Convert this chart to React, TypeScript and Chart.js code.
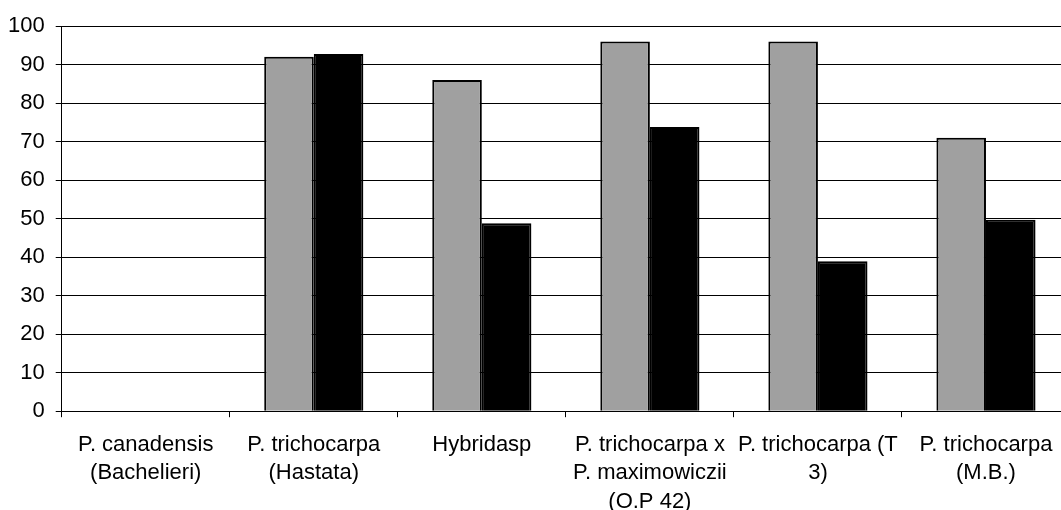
import React, { useEffect, useRef } from "react";
import { Chart, registerables } from "chart.js";

Chart.register(...registerables);

const categories: string[][] = [
  ["P. canadensis", "(Bachelieri)"],
  ["P. trichocarpa", "(Hastata)"],
  ["Hybridasp"],
  ["P. trichocarpa x", "P. maximowiczii", "(O.P 42)"],
  ["P. trichocarpa (T", "3)"],
  ["P. trichocarpa", "(M.B.)"],
];
const seriesGray: number[] = [0, 92, 86, 96, 96, 71];
const seriesBlack: number[] = [0, 92.7, 48.8, 73.8, 38.9, 49.7];
const yTicks: number[] = [0, 10, 20, 30, 40, 50, 60, 70, 80, 90, 100];

export default function App() {
  const ref = useRef<HTMLCanvasElement | null>(null);
  useEffect(() => {
    if (!ref.current) return;
    const font = { family: '"Liberation Sans", Arial, sans-serif', size: 22, lineHeight: 1.3 };
    const chart = new Chart(ref.current, {
      type: "bar",
      data: {
        labels: categories,
        datasets: [
          {
            data: seriesGray,
            backgroundColor: "#a0a0a0",
            borderColor: "#000",
            borderWidth: 2,
            categoryPercentage: 0.59,
            barPercentage: 1,
          },
          {
            data: seriesBlack,
            backgroundColor: "#000",
            borderColor: "#000",
            borderWidth: 2,
            categoryPercentage: 0.59,
            barPercentage: 1,
          },
        ],
      },
      options: {
        responsive: true,
        maintainAspectRatio: false,
        animation: false,
        layout: { padding: { top: 26, left: 10, right: 5, bottom: 2 } },
        plugins: { legend: { display: false }, tooltip: { enabled: false } },
        scales: {
          x: {
            grid: { drawOnChartArea: false, drawTicks: true, tickLength: 6, color: "#000", offset: true },
            border: { display: true, color: "#000", width: 1 },
            ticks: { color: "#000", font, padding: 13, maxRotation: 0, minRotation: 0, autoSkip: false },
          },
          y: {
            min: 0,
            max: 100,
            afterBuildTicks: (axis: any) => {
              axis.ticks = yTicks.map((v) => ({ value: v }));
            },
            grid: { color: "#000", lineWidth: 1, drawTicks: true, tickLength: 6 },
            border: { display: true, color: "#000", width: 1 },
            ticks: { color: "#000", font: { ...font, lineHeight: 1.2 }, padding: 11 },
          },
        },
      },
    });
    return () => chart.destroy();
  }, []);
  return (
    <div style={{ position: "fixed", left: 0, top: 0, width: 1061, height: 510, overflow: "hidden", background: "#fff" }}>
      <div style={{ position: "absolute", left: -13, top: 0, width: 1088, height: 531 }}>
        <canvas ref={ref} />
      </div>
    </div>
  );
}
